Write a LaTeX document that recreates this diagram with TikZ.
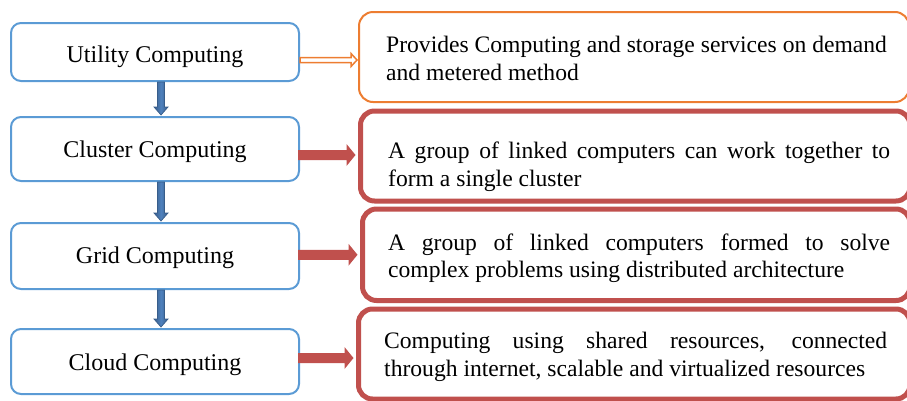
\documentclass[tikz,border=0pt]{standalone}
\usepackage{fontspec}
\setmainfont{Liberation Serif}
\usetikzlibrary{calc}

\definecolor{boxblue}{RGB}{91,155,213}
\definecolor{arrowblue}{RGB}{79,129,189}
\definecolor{arrowblueedge}{RGB}{56,93,138}
\definecolor{orng}{RGB}{237,125,49}
\definecolor{brick}{RGB}{192,80,77}

% horizontal block arrow: style, from, to, shaft half, head half, head length
\newcommand\hblockarrow[6]{%
  \path[#1] let \p1=(#2), \p2=(#3) in
    (\x1,\y2+#4) -- (\x2-#6,\y2+#4) -- (\x2-#6,\y2+#5) -- (\x2,\y2)
    -- (\x2-#6,\y2-#5) -- (\x2-#6,\y2-#4) -- (\x1,\y2-#4) -- cycle;}
% vertical (downward) block arrow: style, from, to, shaft half, head half, head length
\newcommand\vblockarrow[6]{%
  \path[#1] let \p1=(#2), \p2=(#3) in
    (\x1-#4,\y1) -- (\x1-#4,\y2+#6) -- (\x1-#5,\y2+#6) -- (\x1,\y2)
    -- (\x1+#5,\y2+#6) -- (\x1+#4,\y2+#6) -- (\x1+#4,\y1) -- cycle;}

\begin{document}
\begin{tikzpicture}[x=1pt,y=-1pt,
  stage/.style={draw=boxblue, line width=2pt, rounded corners=10pt,
    fill=white, minimum width=288pt, inner sep=0pt},
  stagetext/.style={anchor=base, inner sep=0pt, font=\fontsize{24}{28}\selectfont},
  infobox/.style={draw=#1, rounded corners=14pt, fill=white, inner sep=0pt},
  infotext/.style={anchor=base west, inner sep=0pt, font=\fontsize{23.6}{28}\selectfont},
  downarrow/.style={draw=arrowblueedge, line width=0.7pt,
    left color=arrowblueedge, right color=arrowblueedge,
    middle color=arrowblue},
  redarrow/.style={fill=brick},
  openarrow/.style={draw=orng, line width=1.5pt, fill=white}]

\useasboundingbox (0,0) rectangle (907,400);

% stages of computing, left column
\node[stage, minimum height=58pt] (util)  at (155,52)    {};
\node[stage, minimum height=64pt] (clust) at (155,149)   {};
\node[stage, minimum height=66pt] (grid)  at (155,256)   {};
\node[stage, minimum height=65pt] (cloud) at (155,361.5) {};

\node[stagetext] (utilT)  at (155,62)  {Utility Computing};
\node[stagetext] (clustT) at (155,157) {Cluster Computing};
\node[stagetext] (gridT)  at (155,263) {Grid Computing};
\node[stagetext] (cloudT) at (155,370) {Cloud Computing};

% descriptions, right column
\node[infobox=orng, line width=2pt, minimum width=550pt, minimum height=90pt]
  (dutil) at (634,57) {};
\node[infobox=brick, line width=5pt, minimum width=549.5pt, minimum height=90pt]
  (dclust) at (635.25,156) {};
\node[infobox=brick, line width=5pt, minimum width=547.5pt, minimum height=91.5pt]
  (dgrid) at (636.25,254.75) {};
\node[infobox=brick, line width=5pt, minimum width=551.5pt, minimum height=90pt]
  (dcloud) at (634.25,354) {};

\node[infotext] (dutilA) at (386,52) {Provides Computing and storage services on demand};
\node[infotext] (dutilB) at (386,80) {and metered method};

\node[infotext] (dclustA) at (388,158) {\makebox[502pt][s]{A group of linked computers can work together to}};
\node[infotext] (dclustB) at (388,186) {form a single cluster};

\node[infotext] (dgridA) at (388,250) {\makebox[502pt][s]{A group of linked computers formed to solve}};
\node[infotext] (dgridB) at (388,277) {complex problems using distributed architecture};

\node[infotext] (dcloudA) at (384,348) {\makebox[503pt][s]{Computing using shared resources, connected}};
\node[infotext] (dcloudB) at (384,376) {through internet, scalable and virtualized resources};

% progression arrows between stages
\vblockarrow{downarrow}{[xshift=6pt]util.south}{[yshift=1pt]clust.north}{3.5pt}{7pt}{8pt}
\vblockarrow{downarrow}{[xshift=6pt]clust.south}{[yshift=1pt]grid.north}{3.5pt}{7pt}{8pt}
\vblockarrow{downarrow}{[xshift=6pt]grid.south}{[yshift=1pt]cloud.north}{3.5pt}{7pt}{8pt}

% arrows from each stage to its description
\hblockarrow{openarrow}{util.east}{[xshift=-1pt,yshift=-3pt]dutil.west}{2.5pt}{6.5pt}{6pt}
\hblockarrow{redarrow}{[xshift=-2pt]clust.east}{[xshift=-2.5pt,yshift=1pt]dclust.west}{5pt}{11pt}{9pt}
\hblockarrow{redarrow}{[xshift=-2pt]grid.east}{[xshift=-2.5pt]dgrid.west}{5pt}{11pt}{9pt}
\hblockarrow{redarrow}{[xshift=-2pt]cloud.east}{[xshift=-2.5pt,yshift=-4pt]dcloud.west}{5pt}{11pt}{9pt}

\end{tikzpicture}
\end{document}
